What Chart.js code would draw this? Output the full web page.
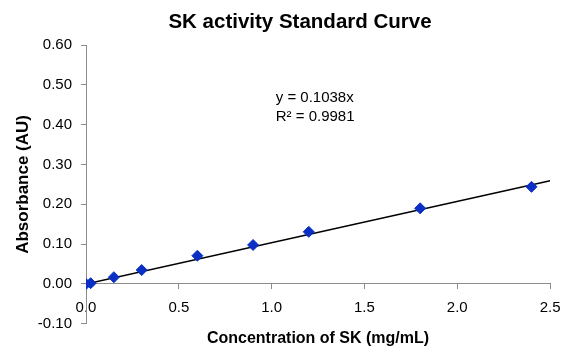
<!DOCTYPE html>
<html>
<head>
<meta charset="utf-8">
<script src="https://cdn.jsdelivr.net/npm/chart.js@4.4.1/dist/chart.umd.min.js"></script>
<style>
  html, body { margin: 0; padding: 0; background: #fff; }
  #wrap { width: 570px; height: 352px; }
</style>
</head>
<body>
<div id="wrap"><canvas id="skChart" width="570" height="352"></canvas></div>
<script>
// Standard curve readings
const concentrations = [0, 0.025, 0.15, 0.3, 0.6, 0.9, 1.2, 1.8, 2.4];
const absorbances = [0, 0.002, 0.017, 0.035, 0.071, 0.098, 0.131, 0.19, 0.244];
// Linear fit through the origin
const slope = 0.1038;
const rSquared = 0.9981;
const fitRange = [0, 2.5];
const yTicks = [-0.1, 0, 0.1, 0.2, 0.3, 0.4, 0.5, 0.6];
const xTicks = [0, 0.5, 1.0, 1.5, 2.0, 2.5];

const FONT = "'Liberation Sans', Arial, sans-serif";
const axisGray = '#8c8c8c';

// Writes the fit equation next to the line, positioned in data units
const equationLabel = {
    id: 'equationLabel',
    afterDatasetsDraw(chart) {
        const ctx = chart.ctx;
        const xs = chart.scales.x;
        const ys = chart.scales.y;
        ctx.save();
        ctx.fillStyle = '#000';
        ctx.font = '15px ' + FONT;
        ctx.textAlign = 'left';
        ctx.textBaseline = 'middle';
        const x0 = xs.getPixelForValue(1.022);
        ctx.fillText('y = ' + slope.toFixed(4) + 'x', x0, ys.getPixelForValue(0.4675));
        ctx.fillText('R\u00B2 = ' + rSquared.toFixed(4), x0, ys.getPixelForValue(0.421));
        ctx.restore();
    }
};

function initializeStandardCurve() {
    const ctx = document.getElementById('skChart');
    if (!ctx) {
        console.warn('Chart canvas is missing!');
        return;
    }
    new Chart(ctx.getContext('2d'), {
        type: 'scatter',
        data: {
            datasets: [{
                label: 'Standard',
                data: concentrations.map((c, i) => ({ x: c, y: absorbances[i] })),
                pointStyle: 'rectRot',
                pointRadius: 5.5,
                pointBackgroundColor: '#0a2fc4',
                pointBorderColor: '#0a2fc4',
                order: 1
            }, {
                label: 'Linear fit',
                type: 'line',
                data: fitRange.map(x => ({ x: x, y: slope * x })),
                borderColor: '#000',
                borderWidth: 1.5,
                pointRadius: 0,
                fill: false,
                order: 2
            }]
        },
        options: {
            responsive: false,
            animation: false,
            layout: { padding: { left: 30, right: 0, top: 6, bottom: 4 } },
            plugins: {
                legend: { display: false },
                tooltip: { enabled: false },
                title: {
                    display: true,
                    text: 'SK activity Standard Curve',
                    color: '#000',
                    font: { family: FONT, size: 20.5, weight: 'bold' },
                    padding: { top: 4, bottom: 10.5 }
                }
            },
            scales: {
                x: {
                    type: 'linear',
                    position: { y: 0 },
                    min: 0,
                    max: 2.5,
                    afterBuildTicks: s => { s.ticks = xTicks.map(v => ({ value: v })); },
                    ticks: {
                        color: '#000',
                        font: { family: FONT, size: 15 },
                        padding: 9.5,
                        maxRotation: 0,
                        callback: v => Number(v).toFixed(1)
                    },
                    grid: { drawOnChartArea: false, drawTicks: true, tickLength: 5, color: axisGray },
                    border: { color: axisGray, width: 1 }
                },
                xTitle: {
                    type: 'linear',
                    position: 'bottom',
                    min: 0,
                    max: 2.5,
                    ticks: { display: false },
                    grid: { display: false, drawTicks: false },
                    border: { display: false },
                    title: {
                        display: true,
                        text: 'Concentration of SK (mg/mL)',
                        color: '#000',
                        font: { family: FONT, size: 16, weight: 'bold' },
                        padding: { top: 5, bottom: 0 }
                    }
                },
                yRight: {
                    type: 'linear',
                    position: 'right',
                    min: -0.1,
                    max: 0.6,
                    ticks: { display: false },
                    grid: { display: false, drawTicks: false },
                    border: { display: false },
                    afterFit: s => { s.width = 17; }
                },
                y: {
                    type: 'linear',
                    position: 'left',
                    min: -0.1,
                    max: 0.6,
                    afterBuildTicks: s => { s.ticks = yTicks.map(v => ({ value: v })); },
                    afterFit: s => { s.width = 56; },
                    ticks: {
                        color: '#000',
                        font: { family: FONT, size: 15 },
                        padding: 9,
                        callback: v => Number(v).toFixed(2)
                    },
                    grid: { drawOnChartArea: false, drawTicks: true, tickLength: 5, color: axisGray },
                    border: { color: axisGray, width: 1 },
                    title: {
                        display: true,
                        text: 'Absorbance (AU)',
                        color: '#000',
                        font: { family: FONT, size: 17, weight: 'bold' },
                        padding: { top: -17.2, bottom: 0 }
                    }
                }
            }
        },
        plugins: [equationLabel]
    });
}

initializeStandardCurve();
</script>
</body>
</html>
